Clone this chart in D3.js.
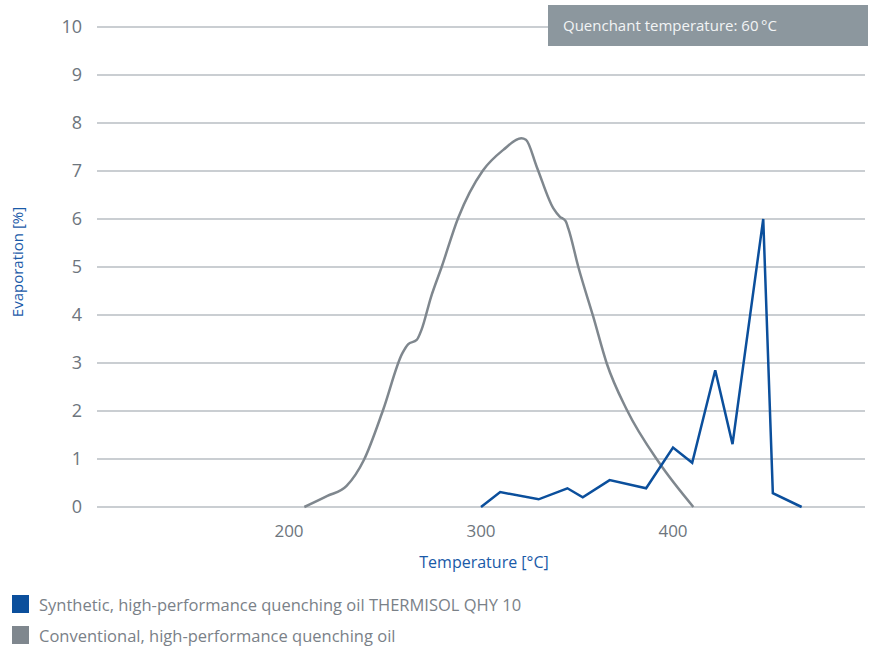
<!DOCTYPE html>
<html lang="en">
<head>
    <meta charset="UTF-8">
    <style>
        body { margin: 0; background: #fff; }
        svg { font-family: "Open Sans", "Noto Sans", sans-serif; }
    </style>
    <script src="https://d3js.org/d3.v7.min.js"></script>
</head>
<body>
    <div id="chart"></div>
    <script>
        // Data: [temperature °C, evaporation %]
        var synthetic = [
            [300, 0], [310, 0.31], [330, 0.16], [345, 0.39], [353, 0.2],
            [367, 0.56], [386, 0.39], [400, 1.24], [410, 0.92], [422, 2.85],
            [431, 1.31], [447, 6.0], [452, 0.29], [467, 0]
        ];
        var conventional = [
            [208, 0], [220, 0.23], [230, 0.44], [239, 0.98], [249, 2.02], [259, 3.2],
            [262, 3.39], [266.5, 3.48], [269, 3.69], [274, 4.38], [279.5, 5.0],
            [288, 6.01], [301, 7.01], [311.6, 7.44], [321, 7.68], [323.4, 7.65],
            [329, 7.09], [337.7, 6.22], [341, 6.05], [344, 5.96], [345.5, 5.8],
            [350.7, 5.0], [358.5, 3.96], [365.5, 2.99], [376, 2.02], [393, 0.91],
            [410.6, 0]
        ];
        var xTicks = [200, 300, 400];
        var yTicks = [0, 1, 2, 3, 4, 5, 6, 7, 8, 9, 10];
        var legendLabels = [
            "Synthetic, high-performance quenching oil THERMISOL QHY 10",
            "Conventional, high-performance quenching oil"
        ];

        var blue = "#0b4f9c", grey = "#7f878e";

        var svg = d3.select("#chart").append("svg")
            .attr("width", 880)
            .attr("height", 649);

        var x = d3.scaleLinear().domain([100, 500]).range([97, 865]);
        var y = d3.scaleLinear().domain([0, 10]).range([507, 27]);

        // gridlines
        svg.append("g")
            .selectAll("line")
            .data(yTicks)
            .enter().append("line")
            .attr("x1", x(100))
            .attr("x2", x(500))
            .attr("y1", d => y(d))
            .attr("y2", d => y(d))
            .attr("stroke", "#b8bec3")
            .attr("stroke-width", 1.5);

        // y tick labels
        svg.append("g")
            .selectAll("text")
            .data(yTicks)
            .enter().append("text")
            .attr("x", 82)
            .attr("y", d => y(d))
            .attr("dy", "0.35em")
            .attr("text-anchor", "end")
            .attr("fill", "#6d757d")
            .style("font-size", "18px")
            .text(d => d);

        // x tick labels
        svg.append("g")
            .selectAll("text")
            .data(xTicks)
            .enter().append("text")
            .attr("x", d => x(d))
            .attr("y", 531)
            .attr("dy", "0.35em")
            .attr("text-anchor", "middle")
            .attr("fill", "#6d757d")
            .style("font-size", "17px")
            .text(d => d);

        // axis titles
        svg.append("text")
            .attr("x", 484)
            .attr("y", 562)
            .attr("dy", "0.35em")
            .attr("text-anchor", "middle")
            .attr("fill", "#1a5aa8")
            .style("font-size", "16px")
            .text("Temperature [°C]");

        svg.append("text")
            .attr("transform", "translate(18,262) rotate(-90)")
            .attr("dy", "0.35em")
            .attr("text-anchor", "middle")
            .attr("fill", "#1a5aa8")
            .style("font-size", "15px")
            .text("Evaporation [%]");

        // lines
        var lineSmooth = d3.line()
            .x(d => x(d[0]))
            .y(d => y(d[1]))
            .curve(d3.curveMonotoneX);
        var lineStraight = d3.line()
            .x(d => x(d[0]))
            .y(d => y(d[1]));

        svg.append("path")
            .datum(conventional)
            .attr("d", lineSmooth)
            .attr("fill", "none")
            .attr("stroke", grey)
            .attr("stroke-width", 2.5);

        svg.append("path")
            .datum(synthetic)
            .attr("d", lineStraight)
            .attr("fill", "none")
            .attr("stroke", blue)
            .attr("stroke-width", 2.5)
            .attr("stroke-linejoin", "miter");

        // info box
        svg.append("rect")
            .attr("x", 548)
            .attr("y", 5)
            .attr("width", 320)
            .attr("height", 41)
            .attr("fill", "#8c979e");
        svg.append("text")
            .attr("x", 563)
            .attr("y", 26)
            .attr("dy", "0.35em")
            .attr("fill", "#f2f4f5")
            .style("font-size", "15px")
            .text("Quenchant temperature: 60\u2009°C");

        // legend
        var legend = svg.append("g")
            .selectAll("g")
            .data(legendLabels)
            .enter().append("g")
            .attr("transform", (d, i) => "translate(12," + (595 + i * 31) + ")");
        legend.append("rect")
            .attr("width", 17)
            .attr("height", 18)
            .attr("fill", (d, i) => i === 0 ? blue : grey);
        legend.append("text")
            .attr("x", 27)
            .attr("y", 10)
            .attr("dy", "0.35em")
            .attr("fill", "#7a8188")
            .style("font-size", "16.5px")
            .text(d => d);
    </script>
</body>
</html>
